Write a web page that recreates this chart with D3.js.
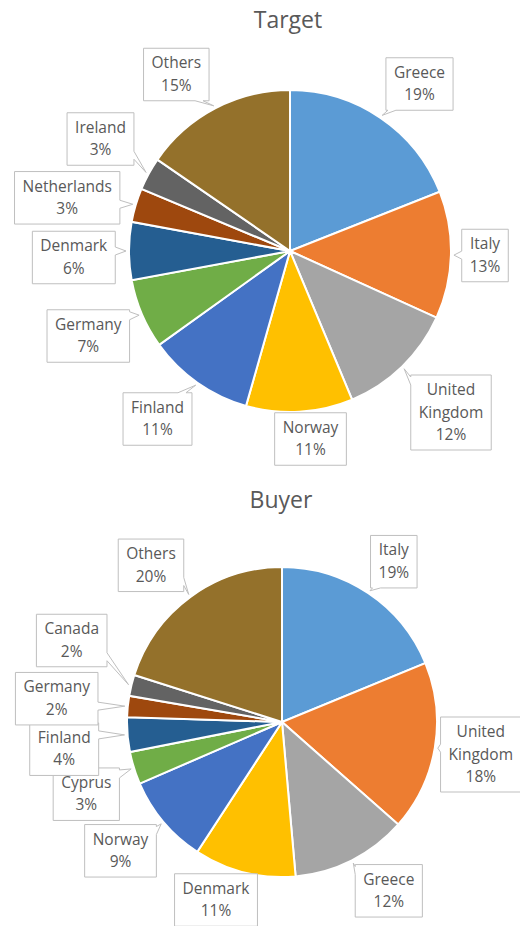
<!DOCTYPE html>
<html>
<head>
<meta charset="utf-8">
<script src="https://cdn.jsdelivr.net/npm/d3@7"></script>
<style>
  body { margin: 0; background: #fff; }
  text { font-family: "Open Sans", sans-serif; fill: #595959; }
</style>
</head>
<body>
<svg id="chart" width="520" height="926"></svg>
<script>
// data (percent of deals)
var targetNames = ["Greece", "Italy", "United Kingdom", "Norway", "Finland", "Germany", "Denmark", "Netherlands", "Ireland", "Others"]
var targetValues = [19.0, 12.8, 11.9, 10.7, 10.7, 7.0, 5.8, 3.4, 3.3, 15.4]

var buyerNames = ["Italy", "United Kingdom", "Greece", "Denmark", "Norway", "Cyprus", "Finland", "Germany", "Canada", "Others"]
var buyerValues = [18.8, 17.7, 12.1, 10.6, 9.3, 3.4, 3.6, 2.2, 2.2, 20.1]

var sliceColors = ["#5b9bd5", "#ed7d31", "#a5a5a5", "#ffc000", "#4472c4", "#70ad47", "#255e91", "#9e480e", "#636363", "#94712b"]

// where each callout box sits, relative to pie centre (layout only)
var targetLabelAt = [[129.5, -167], [195, 4.5], [161, 161.5], [20.5, 188], [-132.5, 168], [-201.7, 85], [-216.2, 6.5], [-222.8, -53.2], [-189.5, -112], [-113.7, -176.5]]
var buyerLabelAt = [[111.8, -160.3], [198.8, 32.5], [106.8, 168.8], [-66, 178], [-161.5, 128.8], [-195.7, 72.2], [-217.8, 27.2], [-225.3, -23.3], [-210.3, -81.5], [-131, -156.7]]

var svg = d3.select("#chart")

function calloutPath(x0, y0, x1, y1, ax, ay){
	// rectangle with a thin wedge pointing at (ax, ay)
	var dl = x0 - ax, dr = ax - x1, dt = y0 - ay, db = ay - y1
	var side = "none", best = 0
	if(dl > best){ best = dl; side = "left" }
	if(dr > best){ best = dr; side = "right" }
	if(dt > best){ best = dt; side = "top" }
	if(db > best){ best = db; side = "bottom" }
	var hw = 4
	var cx = Math.max(x0 + 6, Math.min(x1 - 6 - hw, ax))
	var cy = Math.max(y0 + 6, Math.min(y1 - 6 - hw, ay))
	var p = "M" + x0 + "," + y0
	if(side == "top") p += "L" + (cx - hw) + "," + y0 + "L" + ax + "," + ay + "L" + (cx + hw) + "," + y0
	p += "L" + x1 + "," + y0
	if(side == "right") p += "L" + x1 + "," + (cy - hw) + "L" + ax + "," + ay + "L" + x1 + "," + (cy + hw)
	p += "L" + x1 + "," + y1
	if(side == "bottom") p += "L" + (cx + hw) + "," + y1 + "L" + ax + "," + ay + "L" + (cx - hw) + "," + y1
	p += "L" + x0 + "," + y1
	if(side == "left") p += "L" + x0 + "," + (cy + hw) + "L" + ax + "," + ay + "L" + x0 + "," + (cy - hw)
	return p + "Z"
}

function drawPie(title, titleX, titleY, cx, cy, r, names, values, labelAt){
	svg.append("text")
		.attr("x", titleX)
		.attr("y", titleY)
		.attr("text-anchor", "middle")
		.style("font-size", "23px")
		.text(title)

	var pie = d3.pie().sort(null).value(d => d)
	var arcs = pie(values)
	var arc = d3.arc().innerRadius(0).outerRadius(r)
	var anchorArc = d3.arc().innerRadius(r + 3).outerRadius(r + 3)

	var g = svg.append("g").attr("transform", "translate(" + cx + "," + cy + ")")

	g.selectAll(".slice")
		.data(arcs)
		.enter()
		.append("path")
		.attr("class", "slice")
		.attr("d", arc)
		.attr("fill", (d, i) => sliceColors[i])
		.attr("stroke", "#fff")
		.attr("stroke-width", 2)

	var lineH = 22.5
	arcs.forEach((d, i) => {
		var lines = names[i].split(" ")
		lines.push(Math.round(values[i]) + "%")
		var lx = labelAt[i][0], ly = labelAt[i][1]
		var lab = g.append("g")
		var box = lab.append("path")
		var tw = 0
		var h = lines.length * lineH + 7.5
		var top = ly - h / 2
		lines.forEach((t, j) => {
			var tx = lab.append("text")
				.attr("x", lx)
				.attr("y", top + 20 + j * lineH)
				.attr("text-anchor", "middle")
				.style("font-size", "15.5px")
				.text(t)
			tw = Math.max(tw, tx.node().getComputedTextLength())
		})
		var w = tw + 16
		var a = anchorArc.centroid(d)
		box.attr("d", calloutPath(lx - w / 2, top, lx + w / 2, top + h, a[0], a[1]))
			.attr("fill", "#fff")
			.attr("stroke", "#bfbfbf")
			.attr("stroke-width", 1)
	})
}

drawPie("Target", 288, 28, 290, 251, 161, targetNames, targetValues, targetLabelAt)
drawPie("Buyer", 281, 508, 282, 722, 155, buyerNames, buyerValues, buyerLabelAt)
</script>
</body>
</html>
